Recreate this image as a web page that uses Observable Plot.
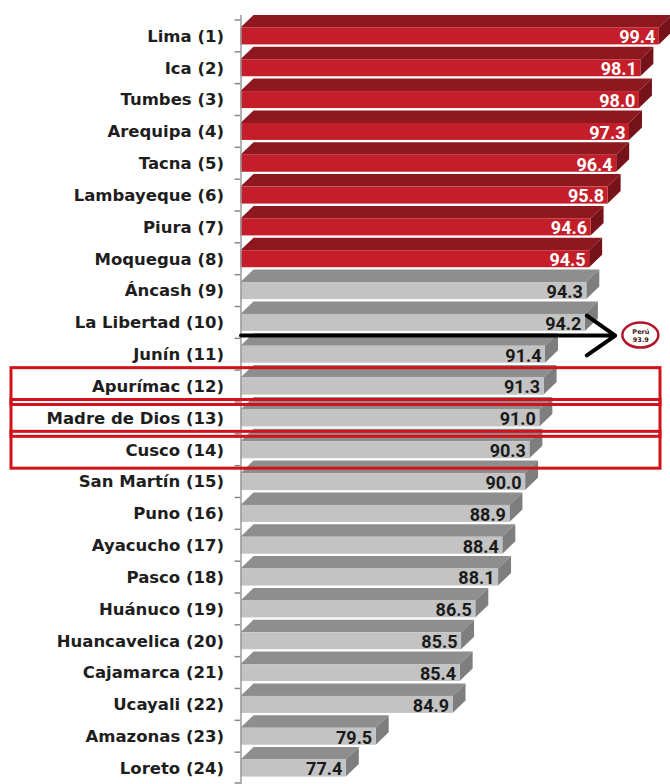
<!DOCTYPE html>
<html>
<head>
<meta charset="utf-8">
<script src="https://cdn.jsdelivr.net/npm/d3@7"></script>
<script src="https://cdn.jsdelivr.net/npm/@observablehq/plot@0.6"></script>
<style>
  html, body { margin: 0; padding: 0; background: #ffffff; }
  #chart { width: 670px; height: 784px; }
</style>
</head>
<body>
<div id="chart"></div>
<script>
// ---------- data ----------
const regions = [
  "Lima (1)", "Ica (2)", "Tumbes (3)", "Arequipa (4)", "Tacna (5)", "Lambayeque (6)",
  "Piura (7)", "Moquegua (8)", "Áncash (9)", "La Libertad (10)", "Junín (11)",
  "Apurímac (12)", "Madre de Dios (13)", "Cusco (14)", "San Martín (15)", "Puno (16)",
  "Ayacucho (17)", "Pasco (18)", "Huánuco (19)", "Huancavelica (20)", "Cajamarca (21)",
  "Ucayali (22)", "Amazonas (23)", "Loreto (24)"
];
const values = [
  99.4, 98.1, 98.0, 97.3, 96.4, 95.8, 94.6, 94.5, 94.3, 94.2, 91.4, 91.3,
  91.0, 90.3, 90.0, 88.9, 88.4, 88.1, 86.5, 85.5, 85.4, 84.9, 79.5, 77.4
];
const topGroupSize = 8; // first 8 regions drawn in red
const highlighted = ["Apurímac (12)", "Madre de Dios (13)", "Cusco (14)"];
const peruNote = [{label: "Perú", value: 93.9, row: "La Libertad (10)"}];

// ---------- layout / style ----------
const W = 670, H = 784;
const xDomain = [70, 100];
const marginTop = 20, marginBottom = 0, marginLeft = 240.5, marginRight = 2.6;
const step = (H - marginTop - marginBottom) / regions.length;
const frontH = 17;
const inset = (step - frontH) / 2;
const DX = 13, DY = 12.5;
const arrowEndX = 96.3, noteX = 98.1, arrowDy = 12.6;

const palette = {
  top:  {front: "#c41e2b", top: "#8e1720", side: "#76121a", text: "#ffffff"},
  rest: {front: "#c3c3c3", top: "#8e8e8e", side: "#7e7e7e", text: "#1a1a1a"}
};

const rows = regions.map((region, i) => ({
  region, value: values[i], group: i < topGroupSize ? "top" : "rest"
}));

function bandwidthOf(scales, dimensions) {
  if (scales.y && typeof scales.y.bandwidth === "function") return scales.y.bandwidth();
  return (dimensions.height - dimensions.marginTop - dimensions.marginBottom) / regions.length;
}

// 3D faces (top + side) and axis ticks, positioned with Plot's scales
function renderFaces(index, scales, v, dimensions) {
  const bw = bandwidthOf(scales, dimensions);
  const g = d3.create("svg:g");
  for (const i of index) {
    const xa = v.x1[i], xb = v.x2[i];
    const top = v.y[i] + inset, bot = v.y[i] + bw - inset;
    const c = palette[rows[i].group];
    g.append("path")
      .attr("d", `M${xa},${top}L${xb},${top}L${xb + DX},${top - DY}L${xa + DX},${top - DY}Z`)
      .attr("fill", c.top);
    g.append("path")
      .attr("d", `M${xb},${top}L${xb + DX},${top - DY}L${xb + DX},${bot - DY}L${xb},${bot}Z`)
      .attr("fill", c.side);
    // small axis tick at the band boundary
    g.append("line")
      .attr("x1", xa - 6).attr("x2", xa).attr("y1", v.y[i]).attr("y2", v.y[i])
      .attr("stroke", "#8a8a8a").attr("stroke-width", 1.5);
    if (i === index[index.length - 1]) {
      g.append("line")
        .attr("x1", xa - 6).attr("x2", xa).attr("y1", v.y[i] + bw - 1).attr("y2", v.y[i] + bw - 1)
        .attr("stroke", "#8a8a8a").attr("stroke-width", 1.5);
    }
  }
  return g.node();
}

const chart = Plot.plot({
  width: W,
  height: H,
  marginTop, marginBottom, marginLeft, marginRight,
  style: {
    fontFamily: "'DejaVu Sans', sans-serif",
    fontSize: "16.5px",
    fontWeight: "bold",
    color: "#1e1e1e",
    background: "#ffffff",
    overflow: "visible"
  },
  x: {domain: xDomain, axis: null},
  y: {domain: regions, padding: 0, round: false, tickSize: 0, tickPadding: 17, label: null},
  color: {type: "identity"},
  marks: [
    // 3D top + side faces
    Plot.barX(rows, {
      x1: () => xDomain[0], x2: "value", y: "region",
      insetTop: inset, insetBottom: inset,
      render: renderFaces
    }),
    // front faces
    Plot.barX(rows, {
      x1: () => xDomain[0], x2: "value", y: "region",
      insetTop: inset, insetBottom: inset,
      fill: d => palette[d.group].front
    }),
    // vertical axis line
    Plot.ruleX([xDomain[0]], {stroke: "#9a9a9a", strokeWidth: 1.5, insetTop: -5}),
    // value labels
    Plot.text(rows, {
      x: "value", y: "region",
      text: d => d.value.toFixed(1),
      textAnchor: "end", dx: -4, dy: 1,
      fill: d => palette[d.group].text,
      fontFamily: "Roboto, 'DejaVu Sans', sans-serif",
      fontSize: 18, fontWeight: "bold"
    }),
    // highlight boxes
    Plot.barX(highlighted, {
      x1: () => xDomain[0], x2: () => xDomain[1], y: d => d,
      fill: "none", stroke: "#d0121b", strokeWidth: 3,
      insetLeft: -229.5, insetRight: 7.4, insetTop: -2.5, insetBottom: -2.5
    }),
    // national average arrow
    Plot.arrow(peruNote, {
      x1: () => xDomain[0], x2: () => arrowEndX,
      y1: "row", y2: "row", dy: arrowDy,
      stroke: "#000000", strokeWidth: 4, headLength: 13, headAngle: 70
    }),
    // Perú note in ellipse
    Plot.text(peruNote, {
      x: () => noteX, y: "row", dy: arrowDy,
      text: d => `${d.label}\n${d.value.toFixed(1)}`,
      fontSize: 6.5, fontWeight: "bold", fill: "#3a1414", lineHeight: 1.3,
      render(index, scales, v, dimensions, context, next) {
        const g = next(index, scales, v, dimensions, context);
        const bw = bandwidthOf(scales, dimensions);
        const wrap = d3.create("svg:g");
        for (const i of index) {
          wrap.append("ellipse")
            .attr("cx", v.x[i]).attr("cy", v.y[i] + bw / 2 + arrowDy)
            .attr("rx", 18).attr("ry", 12.5)
            .attr("fill", "#ffffff").attr("stroke", "#b3152a").attr("stroke-width", 2.5);
        }
        wrap.append(() => g);
        return wrap.node();
      }
    })
  ]
});

document.getElementById("chart").appendChild(chart);
</script>
</body>
</html>
